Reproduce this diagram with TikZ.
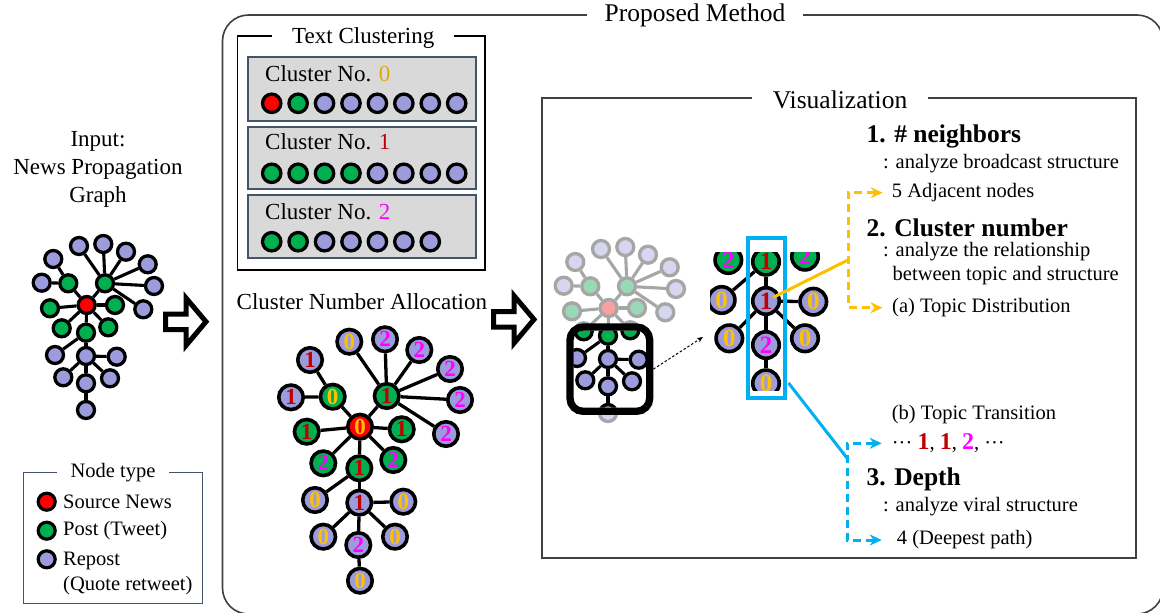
\documentclass[tikz,border=0pt]{standalone}
\usepackage{fontspec}
\setmainfont{Liberation Serif}
\usetikzlibrary{arrows.meta,calc}
\definecolor{nred}{RGB}{255,0,0}
\definecolor{ngreen}{RGB}{0,176,80}
\definecolor{npurple}{RGB}{156,156,220}
\definecolor{czero}{RGB}{255,192,0}
\definecolor{czerot}{RGB}{228,168,0}
\definecolor{cone}{RGB}{192,0,0}
\definecolor{ctwo}{RGB}{255,0,255}
\definecolor{hcyan}{RGB}{0,176,240}
\definecolor{frameblue}{RGB}{68,84,106}
\definecolor{boxgray}{RGB}{217,217,217}
\definecolor{fgray}{RGB}{166,166,166}
\definecolor{fpurple}{RGB}{214,214,240}
\definecolor{fgreen}{RGB}{153,217,183}
\definecolor{fred}{RGB}{250,160,160}
\definecolor{linegray}{RGB}{64,64,64}

\newcommand{\propgraph}[1]{%
\node[gsrc] (#1s) at (86.7,305) {};
\node[gpost] (#1ga) at (68.3,283.3) {};
\node[gpost] (#1gb) at (105,283.3) {};
\node[gpost] (#1gc) at (50,308.3) {};
\node[gpost] (#1gd) at (115,305) {};
\node[gpost] (#1ge) at (61.7,328.3) {};
\node[gpost] (#1gf) at (86,332.7) {};
\node[gpost] (#1gg) at (108.3,327.3) {};
\node[grep] (#1pa1) at (53.3,259) {};
\node[grep] (#1pa2) at (41.7,282.7) {};
\node[grep] (#1pb1) at (79,246) {};
\node[grep] (#1pb2) at (103.3,244) {};
\node[grep] (#1pb3) at (126,251.7) {};
\node[grep] (#1pb4) at (147.7,264.3) {};
\node[grep] (#1pb5) at (154,286) {};
\node[grep] (#1pb6) at (143.3,309.3) {};
\node[grep] (#1pf1) at (55,355) {};
\node[grep] (#1pf2) at (86,356) {};
\node[grep] (#1ph1) at (116.7,356.7) {};
\node[grep] (#1ph2) at (63.3,377.3) {};
\node[grep] (#1ph3) at (86,383.3) {};
\node[grep] (#1ph4) at (110,378.3) {};
\node[grep] (#1pk) at (86,410) {};
\foreach \a/\b in {s/ga,s/gb,s/gc,s/gd,s/ge,s/gf,s/gg,ga/pa1,ga/pa2,gb/pb1,gb/pb2,gb/pb3,gb/pb4,gb/pb5,gb/pb6,gf/pf1,gf/pf2,pf2/ph1,pf2/ph2,pf2/ph3,pf2/ph4,ph3/pk}
  \draw[gedge] (#1\a) -- (#1\b);
}

\begin{document}
\begin{tikzpicture}[x=1pt,y=-1pt,
  txt/.style={inner sep=0, anchor=west, font=\fontsize{20.5}{24}\selectfont},
  hdr/.style={inner sep=0, anchor=west, font=\fontsize{25.5}{30}\selectfont\bfseries},
  bigtxt/.style={inner sep=0, font=\fontsize{23}{28}\selectfont},
  ttl/.style={fill=white, inner ysep=2, font=\fontsize{25.5}{30}\selectfont},
  cdot/.style={circle, inner sep=0, minimum size=18.4, line width=3.3, draw=black, fill=#1},
  ldot/.style={circle, inner sep=0, minimum size=17, line width=3.2, draw=black, fill=#1},
  cn/.style={circle, inner sep=0, minimum size=24.5, line width=3.6, draw=black, fill=#1, font=\fontsize{23}{23}\selectfont\bfseries},
  zn/.style={circle, inner sep=0, minimum size=26.5, line width=3.6, draw=black, fill=#1, font=\fontsize{25}{25}\selectfont\bfseries},
  l0/.style={text=czero}, l1/.style={text=cone}, l2/.style={text=ctwo},
  cedge/.style={line width=3.3},
  fullgraph/.style={
    gsrc/.style={circle, inner sep=0, minimum size=17, line width=3.3, draw=black, fill=nred},
    gpost/.style={circle, inner sep=0, minimum size=17, line width=3.3, draw=black, fill=ngreen},
    grep/.style={circle, inner sep=0, minimum size=17, line width=3.3, draw=black, fill=npurple},
    gedge/.style={line width=3.1, draw=black}},
  fadedgraph/.style={
    gsrc/.style={circle, inner sep=0, minimum size=17, line width=3.3, draw=fgray, fill=fred},
    gpost/.style={circle, inner sep=0, minimum size=17, line width=3.3, draw=fgray, fill=fgreen},
    grep/.style={circle, inner sep=0, minimum size=17, line width=3.3, draw=fgray, fill=fpurple},
    gedge/.style={line width=3.1, draw=fgray}},
  blockarrow/.style={line width=5, draw=black, fill=white, line join=miter},
  odash/.style={line width=3, draw=czero, dash pattern=on 8 off 5, {Stealth[length=12,width=11]}-{Stealth[length=12,width=11]}},
  cdash/.style={line width=3, draw=hcyan, dash pattern=on 8 off 5, {Stealth[length=12,width=11]}-{Stealth[length=12,width=11]}}
]
\useasboundingbox (0,0) rectangle (1160,613);
\clip (0,0) rectangle (1160,613);

% ---------- Proposed Method outer box
\node[draw=linegray, line width=1.6, rounded corners=26, minimum width=940.5, minimum height=599, inner sep=0] (pm) at (692.75,314.5) {};
\node[ttl, inner xsep=18] (pmt) at (695,15) {Proposed Method};

% ---------- Input graph
\node[bigtxt, align=center] (inp) at (98,169) {Input:\\News Propagation\\Graph};
\begin{scope}[fullgraph]
\propgraph{i}
\end{scope}

% block arrows
\draw[blockarrow] (165.5,314) -- (186,314) -- (186,298) -- (206,321.7) -- (186,345.5) -- (186,329.5) -- (165.5,329.5) -- cycle;
\begin{scope}[shift={(328,-2.3)}]
\draw[blockarrow] (165.5,314) -- (186,314) -- (186,298) -- (206,321.7) -- (186,345.5) -- (186,329.5) -- (165.5,329.5) -- cycle;
\end{scope}

% ---------- Legend
\node[draw=frameblue, line width=1.3, minimum width=179.4, minimum height=131, inner sep=0] (lgbox) at (113,537.8) {};
\node[fill=white, inner xsep=14, inner ysep=1, font=\fontsize{20.5}{24}\selectfont] (lgt) at (113,472.3) {Node type};
\node[ldot=nred] (lc1) at (46.7,501.7) {};
\node[ldot=ngreen] (lc2) at (46.7,530.7) {};
\node[ldot=npurple] (lc3) at (46.7,559.3) {};
\node[txt] (lt1) at (63,502) {Source News};
\node[txt] (lt2) at (63,531) {Post (Tweet)};
\node[txt] (lt3) at (63,561) {Repost};
\node[txt] (lt4) at (63,586) {(Quote retweet)};

% ---------- Text Clustering
\node[draw=black, line width=1.5, minimum width=247.7, minimum height=234, inner sep=0] (tcbox) at (361.2,153) {};
\node[fill=white, inner xsep=20, inner ysep=1, font=\fontsize{23}{28}\selectfont] (tct) at (363.3,38.3) {Text Clustering};
\node[draw=frameblue, fill=boxgray, line width=1.3, minimum width=228, minimum height=64, inner sep=0] (cb0) at (362,89) {};
\node[draw=frameblue, fill=boxgray, line width=1.3, minimum width=228, minimum height=62, inner sep=0] (cb1) at (362,158) {};
\node[draw=frameblue, fill=boxgray, line width=1.3, minimum width=228, minimum height=63, inner sep=0] (cb2) at (362,226.5) {};
\node[bigtxt, anchor=west] (cl0) at (265,74) {Cluster No. \textcolor{czerot}{0}};
\node[bigtxt, anchor=west] (cl1) at (265,142) {Cluster No. \textcolor{cone}{1}};
\node[bigtxt, anchor=west] (cl2) at (265,211.5) {Cluster No. \textcolor{ctwo}{2}};
\foreach \c [count=\i] in {nred,ngreen,npurple,npurple,npurple,npurple,npurple,npurple}
  \node[cdot=\c] (da\i) at ({271.7+26.43*(\i-1)},103.3) {};
\foreach \c [count=\i] in {ngreen,ngreen,ngreen,ngreen,npurple,npurple,npurple,npurple}
  \node[cdot=\c] (db\i) at ({271.7+26.43*(\i-1)},173.3) {};
\foreach \c [count=\i] in {ngreen,ngreen,npurple,npurple,npurple,npurple,npurple}
  \node[cdot=\c] (dc\i) at ({271.7+26.43*(\i-1)},241.7) {};

% ---------- Cluster Number Allocation
\node[bigtxt, anchor=west] (cna) at (236.5,301.5) {Cluster Number Allocation};
\node[cn=nred,l0] (cs) at (360,426.7) {0};
\node[cn=ngreen,l0] (cga) at (332.7,396.7) {0};
\node[cn=ngreen,l1] (cgb) at (386.7,396) {1};
\node[cn=ngreen,l1] (cgc) at (306.7,431.7) {1};
\node[cn=ngreen,l1] (cgd) at (401.7,429.3) {1};
\node[cn=ngreen,l2] (cge) at (323.3,463.3) {2};
\node[cn=ngreen,l1] (cgf) at (359.3,468.3) {1};
\node[cn=ngreen,l2] (cgg) at (393.3,460) {2};
\node[cn=npurple,l1] (cpa1) at (310,360) {1};
\node[cn=npurple,l1] (cpa2) at (291,397.3) {1};
\node[cn=npurple,l0] (cpb1) at (349.3,341.7) {0};
\node[cn=npurple,l2] (cpb2) at (385,339.3) {2};
\node[cn=npurple,l2] (cpb3) at (419.3,350) {2};
\node[cn=npurple,l2] (cpb4) at (450,369) {2};
\node[cn=npurple,l2] (cpb5) at (460,400) {2};
\node[cn=npurple,l2] (cpb6) at (446,434) {2};
\node[cn=npurple,l0] (cpf1) at (315,500) {0};
\node[cn=npurple,l1] (cpf2) at (359.3,502.7) {1};
\node[cn=npurple,l0] (cph1) at (403.3,501.7) {0};
\node[cn=npurple,l0] (cph2) at (323.3,536.7) {0};
\node[cn=npurple,l2] (cph3) at (358.3,545) {2};
\node[cn=npurple,l0] (cph4) at (395,536.7) {0};
\node[cn=npurple,l0] (cpk) at (360,580.7) {0};
\foreach \a/\b in {cs/cga,cs/cgb,cs/cgc,cs/cgd,cs/cge,cs/cgf,cs/cgg,cga/cpa1,cga/cpa2,cgb/cpb1,cgb/cpb2,cgb/cpb3,cgb/cpb4,cgb/cpb5,cgb/cpb6,cgf/cpf1,cgf/cpf2,cpf2/cph1,cpf2/cph2,cpf2/cph3,cpf2/cph4,cph3/cpk}
  \draw[cedge] (\a) -- (\b);

% ---------- Visualization
\node[draw=linegray, line width=1.8, minimum width=594, minimum height=460, inner sep=0] (vbox) at (839,328) {};
\node[ttl, inner xsep=21] (vt) at (840,100) {Visualization};

% faded graph
\begin{scope}[shift={(522,3)}, fadedgraph]
\propgraph{f}
\end{scope}
% coloured part inside the frame
\begin{scope}
\clip[rounded corners=9] (573.5,330.8) rectangle (646.2,407.5);
\fill[white] (573.5,330.8) rectangle (646.2,407.5);
\begin{scope}[shift={(522,3)}, fullgraph]
\propgraph{v}
\end{scope}
\end{scope}
\node[draw=black, line width=7.3, rounded corners=13, minimum width=79.7, minimum height=84.3, inner sep=0] (frame) at (609.85,369.15) {};
\coordinate (zvend) at (703,337);
\draw[line width=1, dash pattern=on 2.5 off 2, -{Stealth[length=6,width=5]}] (frame.east) -- (zvend);

% zoomed view
\begin{scope}
\clip (710,252) rectangle (832,390);
\node[zn=ngreen,l2] (zga) at (728.3,260) {2};
\node[zn=ngreen,l1] (zgf) at (766,261.7) {1};
\node[zn=ngreen,l2] (zgg) at (805,256.7) {2};
\node[zn=npurple,l0] (zpf1) at (721.7,300) {0};
\node[zn=npurple,l1] (zpf2) at (766,301) {1};
\node[zn=npurple,l0] (zph1) at (813.3,301.7) {0};
\node[zn=npurple,l0] (zph2) at (729.3,338.3) {0};
\node[zn=npurple,l2] (zph3) at (766,345) {2};
\node[zn=npurple,l0] (zph4) at (805,338.3) {0};
\node[zn=npurple,l0] (zpk) at (766,383.3) {0};
\foreach \a/\b in {zgf/zpf1,zgf/zpf2,zpf2/zph1,zpf2/zph2,zpf2/zph3,zpf2/zph4,zph3/zpk}
  \draw[cedge] (\a) -- (\b);
\end{scope}
\node[draw=hcyan, line width=4, minimum width=36.7, minimum height=160, inner sep=0] (hl) at (766.35,318) {};

% right texts
\node[hdr] (h1) at (866.5,136.7) {1. \# neighbors};
\node[txt] (h1a) at (883,163.3) {: analyze broadcast structure};
\node[txt] (adj) at (891.7,192.7) {5 Adjacent nodes};
\node[hdr] (h2) at (866.5,228.3) {2. Cluster number};
\node[txt] (h2a) at (883,251.7) {: analyze the relationship};
\node[txt] (h2b) at (892.5,275.7) {between topic and structure};
\node[txt] (topd) at (892,307.7) {(a) Topic Distribution};
\node[txt] (topt) at (891.7,415) {(b) Topic Transition};
\node[txt] (seq) at (891.7,443.3) {··· \textcolor{cone}{\textbf{\fontsize{24}{24}\selectfont 1}}, \textcolor{cone}{\textbf{\fontsize{24}{24}\selectfont 1}}, \textcolor{ctwo}{\textbf{\fontsize{24}{24}\selectfont 2}}, ···};
\node[hdr] (h3) at (866.5,479) {3. Depth};
\node[txt] (h3a) at (883,506.7) {: analyze viral structure};
\node[txt] (deep) at (896.7,540) {4 (Deepest path)};

% connectors
\coordinate (oj) at (848,260);
\coordinate (cyj) at (847,458);
\coordinate (cys) at (788.5,383);
\draw[line width=3, draw=czero, shorten <=8] (zpf2.center) -- (oj);
\draw[odash, shorten <=9, shorten >=9.5] (adj.west) -| (oj) |- (topd.west);
\draw[line width=3, draw=hcyan] (cys) -- (cyj);
\draw[cdash, shorten <=10, shorten >=15] (seq.west) -| (cyj) |- (deep.west);
\end{tikzpicture}
\end{document}
